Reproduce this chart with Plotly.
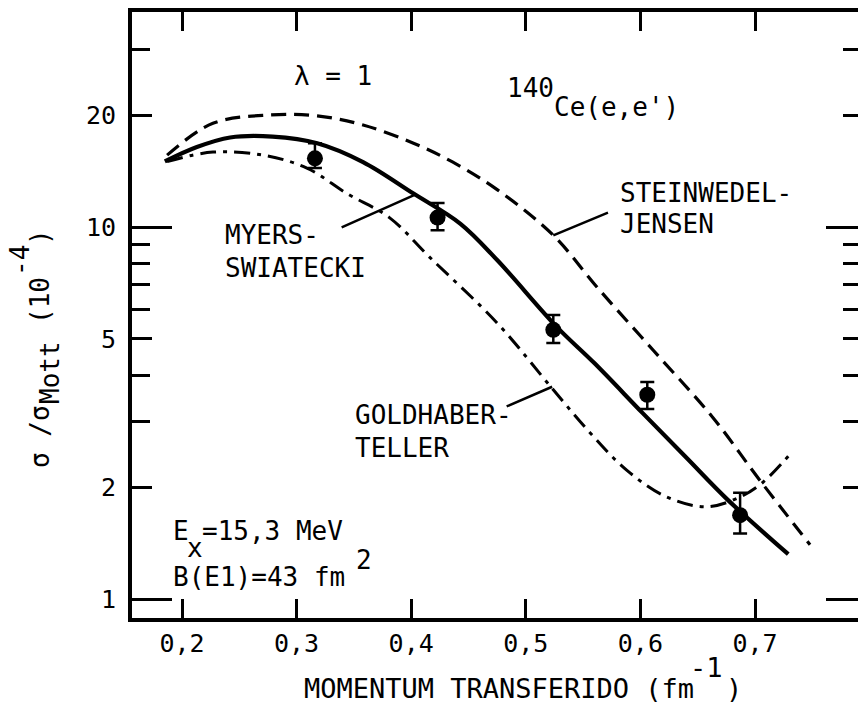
import numpy as np
import plotly.graph_objects as go

# ---------------------------------------------------------------
# 140Ce(e,e') giant dipole resonance, lambda = 1
# ---------------------------------------------------------------

# measured points: momentum transfer (fm^-1), sigma/sigma_Mott (1e-4)
q_data = [0.316, 0.423, 0.524, 0.606, 0.687]
sigma_data = [15.3, 10.6, 5.29, 3.54, 1.68]
err_up = [1.5, 1.0, 0.51, 0.29, 0.25]
err_down = [0.9, 0.8, 0.41, 0.30, 0.18]

# Myers-Swiatecki model (solid)
q_ms = [0.185, 0.213, 0.242, 0.279, 0.318, 0.358, 0.402, 0.443, 0.475,
        0.527, 0.560, 0.602, 0.640, 0.676, 0.729]
s_ms = [15.0, 16.4, 17.4, 17.5, 16.8, 14.95, 12.3, 10.2, 8.15,
        5.39, 4.3, 3.16, 2.4, 1.85, 1.32]

# Steinwedel-Jensen model (dashed)
q_sj = [0.187, 0.227, 0.277, 0.318, 0.358, 0.402, 0.436, 0.475, 0.524,
        0.562, 0.611, 0.663, 0.704, 0.748]
s_sj = [15.6, 19.0, 20.0, 19.9, 18.8, 16.8, 14.96, 12.6, 9.5,
        6.9, 4.67, 3.08, 2.09, 1.40]

# Goldhaber-Teller model (dash-dot)
q_gt = [0.187, 0.227, 0.271, 0.309, 0.344, 0.381, 0.416, 0.475, 0.524,
        0.556, 0.588, 0.623, 0.658, 0.687, 0.707, 0.732]
s_gt = [15.0, 15.9, 15.6, 14.4, 12.3, 10.6, 8.3, 5.52, 3.65,
        2.8, 2.22, 1.88, 1.77, 1.88, 2.06, 2.48]

# axis ticks
x_ticks = [0.2, 0.3, 0.4, 0.5, 0.6, 0.7]
x_ticktext = ["0,2", "0,3", "0,4", "0,5", "0,6", "0,7"]
y_ticks = [1, 2, 5, 10, 20]
y_ticktext = ["1", "2", "5", "10", "20"]
y_minor_left = [3, 4, 6, 7, 8, 9, 30]
y_minor_right = [2, 3, 4, 5, 6, 7, 8, 9, 20, 30]
y_decades = [1, 10]

# leader lines from labels to curves: (tail q, tail sigma), (head q, head sigma)
ptr_ms = [(0.338, 9.94), (0.403, 12.2)]
ptr_sj = [(0.573, 10.97), (0.524, 9.5)]
ptr_gt = [(0.482, 3.28), (0.523, 3.72)]

# ---------------------------------------------------------------
W, H = 858, 703
FL, FR, FT, FB = 132, 858, 12, 618          # frame in pixels
X_RANGE = [0.2 - 50 / 1146, 0.7 + (FR - 755) / 1146]
Y_RANGE = [(599 - FB) / 372, (599 - FT) / 372]
FONT = "DejaVu Sans Mono"
FS = 26


def paper(xp, yp):
    return (xp - FL) / (FR - FL), (FB - yp) / (FB - FT)


fig = go.Figure()

fig.add_trace(go.Scatter(x=q_sj, y=s_sj, mode="lines", line_shape="spline",
                         line=dict(color="black", width=3.2, dash="15px,8px"),
                         showlegend=False, hoverinfo="skip"))
fig.add_trace(go.Scatter(x=q_gt, y=s_gt, mode="lines", line_shape="spline",
                         line=dict(color="black", width=3, dash="16px,7px,4px,7px"),
                         showlegend=False, hoverinfo="skip"))
fig.add_trace(go.Scatter(x=q_ms, y=s_ms, mode="lines", line_shape="spline",
                         line=dict(color="black", width=4.2),
                         showlegend=False, hoverinfo="skip"))
fig.add_trace(go.Scatter(x=q_data, y=sigma_data, mode="markers",
                         marker=dict(color="black", size=16),
                         error_y=dict(type="data", symmetric=False, array=err_up,
                                      arrayminus=err_down, width=7,
                                      thickness=2.5, color="black"),
                         showlegend=False))
# carriers for the extra tick axes
fig.add_trace(go.Scatter(x=[], y=[], yaxis="y2", showlegend=False))
fig.add_trace(go.Scatter(x=[], y=[], yaxis="y3", showlegend=False))

ann = []
for (tail, head) in (ptr_ms, ptr_sj, ptr_gt):
    ann.append(dict(x=head[0], y=np.log10(head[1]), ax=tail[0],
                    ay=np.log10(tail[1]), xref="x", yref="y", axref="x",
                    ayref="y", text="", showarrow=True, arrowhead=0,
                    arrowwidth=2.5, arrowcolor="black"))


def label(text, xp, yp, anchor="left", size=FS, angle=0):
    px_, py_ = paper(xp, yp)
    ann.append(dict(x=px_, y=py_, xref="paper", yref="paper", text=text,
                    showarrow=False, xanchor=anchor, yanchor="middle",
                    textangle=angle,
                    font=dict(family=FONT, size=size, color="black")))


label("λ = 1", 292, 76)
label("140", 505, 88)
label("Ce(e,e')", 552, 107)
label("STEINWEDEL-", 618, 193)
label("JENSEN", 618, 224)
label("MYERS-", 223, 235)
label("SWIATECKI", 223, 268)
label("GOLDHABER-", 353, 415)
label("TELLER", 353, 448)
label("E", 171, 531)
label("x", 185, 548)
label("=15,3 MeV", 200, 531)
label("B(E1)=43 fm", 171, 577)
label("2", 354, 560)

# x-axis title
label("MOMENTUM TRANSFERIDO (fm", 302, 688, size=27)
label("-1", 688, 667, size=27)
label(")", 724, 688, size=27)

# y-axis title (rotated pieces)
label("σ /σ", 40, 437, anchor="center", angle=-90)
label("Mott", 50, 373, anchor="center", angle=-90)
label("(10", 40, 301, anchor="center", angle=-90)
label("-4", 20, 261, anchor="center", angle=-90)
label(")", 40, 237, anchor="center", angle=-90)

axis_common = dict(type="log", range=Y_RANGE, showgrid=False, zeroline=False,
                   tickcolor="black", fixedrange=True)

fig.update_layout(
    width=W, height=H,
    margin=dict(l=FL, r=W - FR, t=FT, b=H - FB, pad=0),
    paper_bgcolor="white", plot_bgcolor="white",
    font=dict(family=FONT, size=25, color="black"),
    xaxis=dict(range=X_RANGE, tickvals=x_ticks, ticktext=x_ticktext,
               ticks="inside", ticklen=19, tickwidth=2.5, tickcolor="black",
               showline=True, linewidth=3.5, linecolor="black", mirror="ticks",
               showgrid=False, zeroline=False, ticklabelstandoff=0,
               tickfont=dict(family=FONT, size=25)),
    yaxis=dict(**axis_common, tickvals=y_ticks, ticktext=y_ticktext,
               ticks="inside", ticklen=20, tickwidth=2.5,
               minor=dict(tickmode="array", tickvals=y_minor_left,
                          ticks="inside", ticklen=18, tickwidth=2.5,
                          tickcolor="black", showgrid=False),
               showline=True, linewidth=4, linecolor="black",
               ticklabelstandoff=7, tickfont=dict(family=FONT, size=25)),
    yaxis2=dict(**axis_common, overlaying="y", side="left", anchor="x",
                tickvals=y_decades, ticks="inside", ticklen=40, tickwidth=2.5,
                showticklabels=False, showline=False),
    yaxis3=dict(**axis_common, overlaying="y", side="right", anchor="x",
                tickvals=y_decades, ticks="inside", ticklen=32, tickwidth=2.5,
                minor=dict(tickmode="array", tickvals=y_minor_right,
                           ticks="inside", ticklen=15, tickwidth=2.5,
                           tickcolor="black", showgrid=False),
                showticklabels=False, showline=False),
    annotations=ann,
    showlegend=False,
)

fig.write_html("out.html")
